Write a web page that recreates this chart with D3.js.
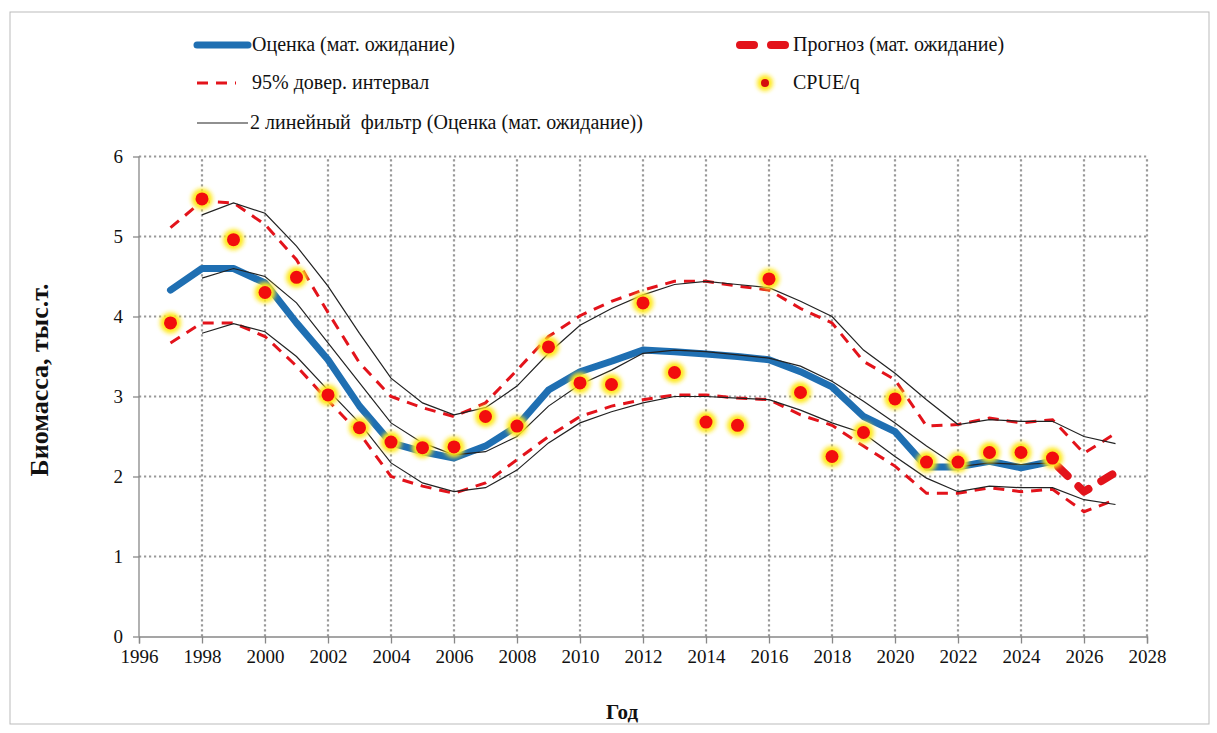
<!DOCTYPE html>
<html><head><meta charset="utf-8">
<script src="https://cdn.jsdelivr.net/npm/d3@7"></script>
<style>
html,body{margin:0;padding:0;background:#fff;}
svg text{font-family:"Liberation Serif","Times New Roman",serif;fill:#111;white-space:pre;}
</style></head>
<body>
<svg id="chart" width="1217" height="733"></svg>
<script>
// ---- data ----
const yearsAll = [1997,1998,1999,2000,2001,2002,2003,2004,2005,2006,2007,2008,2009,2010,2011,2012,2013,2014,2015,2016,2017,2018,2019,2020,2021,2022,2023,2024,2025,2026,2027];
const yearsEst = [1997,1998,1999,2000,2001,2002,2003,2004,2005,2006,2007,2008,2009,2010,2011,2012,2013,2014,2015,2016,2017,2018,2019,2020,2021,2022,2023,2024,2025];
const estimate = [4.33,4.60,4.60,4.42,3.92,3.46,2.88,2.42,2.31,2.23,2.38,2.63,3.08,3.31,3.44,3.58,3.56,3.53,3.50,3.46,3.31,3.12,2.75,2.56,2.12,2.12,2.19,2.11,2.19];
const yearsForecast = [2025,2026,2027];
const forecast = [2.19,1.81,2.05];
const ciUpper = [5.11,5.44,5.42,5.15,4.71,4.05,3.42,3.00,2.86,2.75,2.92,3.33,3.75,4.01,4.19,4.33,4.44,4.44,4.38,4.33,4.10,3.92,3.44,3.21,2.63,2.65,2.73,2.67,2.71,2.29,2.54];
const ciLower = [3.67,3.92,3.92,3.75,3.38,2.95,2.54,2.00,1.88,1.79,1.92,2.21,2.50,2.75,2.88,2.96,3.02,3.02,2.98,2.96,2.77,2.64,2.38,2.13,1.79,1.79,1.86,1.81,1.84,1.56,1.71];
const yearsFilter = [1998,1999,2000,2001,2002,2003,2004,2005,2006,2007,2008,2009,2010,2011,2012,2013,2014,2015,2016,2017,2018,2019,2020,2021,2022,2023,2024,2025,2026,2027];
const filterUpper = [5.27,5.42,5.29,4.88,4.38,3.79,3.23,2.92,2.77,2.86,3.13,3.54,3.89,4.10,4.27,4.40,4.44,4.40,4.36,4.19,4.00,3.58,3.29,2.96,2.65,2.71,2.69,2.69,2.50,2.41];
const yearsFilterMid = [1998,1999,2000,2001,2002,2003,2004,2005,2006,2007,2008,2009,2010,2011,2012,2013,2014,2015,2016,2017,2018,2019,2020,2021,2022,2023,2024,2025];
const filterMid = [4.48,4.60,4.50,4.17,3.67,3.17,2.67,2.42,2.27,2.31,2.50,2.88,3.15,3.33,3.54,3.58,3.56,3.52,3.48,3.38,3.19,2.94,2.67,2.38,2.12,2.17,2.15,2.17];
const filterLower = [3.79,3.91,3.81,3.50,3.08,2.67,2.17,1.92,1.81,1.86,2.08,2.42,2.67,2.81,2.92,3.00,3.00,2.98,2.96,2.83,2.67,2.54,2.25,1.98,1.81,1.88,1.86,1.86,1.71,1.65];
const cpue = [3.92,5.47,4.96,4.30,4.49,3.02,2.61,2.43,2.36,2.37,2.75,2.63,3.62,3.17,3.15,4.17,3.30,2.68,2.64,4.47,3.05,2.25,2.55,2.97,2.18,2.18,2.30,2.30,2.23];
const xTicks = [1996,1998,2000,2002,2004,2006,2008,2010,2012,2014,2016,2018,2020,2022,2024,2026,2028];
const yTicks = [0,1,2,3,4,5,6];
const legendLabels = ["Оценка (мат. ожидание)","95% довер. интервал","2 линейный  фильтр (Оценка (мат. ожидание))","Прогноз (мат. ожидание)","CPUE/q"];

// ---- drawing ----
const svg = d3.select("#chart");
const BLUE = "#1f6fb2", RED = "#e3131b";
const x = d3.scaleLinear().domain([1996,2028]).range([139,1147]);
const y = d3.scaleLinear().domain([0,6]).range([636.5,156.5]);

svg.append("rect").attr("x",10).attr("y",12).attr("width",1199).attr("height",712)
  .attr("fill","none").attr("stroke","#bbb").attr("stroke-width",1);

const defs = svg.append("defs");
const f = defs.append("filter").attr("id","glow").attr("x","-100%").attr("y","-100%").attr("width","300%").attr("height","300%");
f.append("feGaussianBlur").attr("stdDeviation",2.2);

// grid
const grid = svg.append("g").attr("stroke","#999").attr("stroke-width",2.2).attr("stroke-dasharray","2.2,2.8");
grid.selectAll(".gy").data(yTicks.filter(d=>d>0)).join("line")
  .attr("x1",x(1996)).attr("x2",x(2028)).attr("y1",d=>y(d)).attr("y2",d=>y(d));
grid.selectAll(".gx").data(xTicks.filter(d=>d>1996)).join("line")
  .attr("x1",d=>x(d)).attr("x2",d=>x(d)).attr("y1",y(0)).attr("y2",y(6));

// axes
const xAxis = d3.axisBottom(x).tickValues(xTicks).tickFormat(d3.format("d")).tickSize(7).tickPadding(6);
const gx = svg.append("g").attr("transform",`translate(0,${y(0)})`).call(xAxis);
const yAxis = d3.axisLeft(y).tickValues(yTicks).tickFormat(d3.format("d")).tickSize(6).tickPadding(10);
const gy = svg.append("g").attr("transform",`translate(${x(1996)},0)`).call(yAxis);
[gx,gy].forEach(g=>{
  g.attr("font-family",null).attr("font-size",null);
  g.select(".domain").attr("stroke","#888").attr("stroke-width",1.3);
  g.selectAll(".tick line").attr("stroke","#888").attr("stroke-width",1.3);
  g.selectAll(".tick text").style("font-size","19px").attr("fill","#111");
});
gy.select(".domain").attr("d",`M0,${y(0)}V${y(6)}`);

const line = d3.line().x(d=>x(d[0])).y(d=>y(d[1]));
const zip = (a,b)=>a.map((v,i)=>[v,b[i]]);

// estimate
svg.append("path").attr("d",line(zip(yearsEst,estimate))).attr("fill","none")
  .attr("stroke",BLUE).attr("stroke-width",7).attr("stroke-linejoin","round").attr("stroke-linecap","round");
// CI
[ciUpper,ciLower].forEach(s=>{
  svg.append("path").attr("d",line(zip(yearsAll,s))).attr("fill","none")
    .attr("stroke",RED).attr("stroke-width",3).attr("stroke-dasharray","11,8");
});
// filters
[[yearsFilter,filterUpper],[yearsFilterMid,filterMid],[yearsFilter,filterLower]].forEach(([yy,s])=>{
  svg.append("path").attr("d",line(zip(yy,s))).attr("fill","none")
    .attr("stroke","#222").attr("stroke-width",1.2);
});
// forecast
svg.append("path").attr("d",line(zip(yearsForecast,forecast))).attr("fill","none")
  .attr("stroke",RED).attr("stroke-width",8).attr("stroke-linecap","round").attr("stroke-linejoin","round")
  .attr("stroke-dasharray","13,15").attr("stroke-dashoffset",-8);
// cpue dots
const dots = svg.append("g");
const cp = zip(yearsEst,cpue);
dots.selectAll(".h").data(cp).join("circle").attr("cx",d=>x(d[0])).attr("cy",d=>y(d[1]))
  .attr("r",10.5).attr("fill","#ffe81a").attr("filter","url(#glow)");
dots.selectAll(".c").data(cp).join("circle").attr("cx",d=>x(d[0])).attr("cy",d=>y(d[1]))
  .attr("r",6.5).attr("fill","#f20d0d");

// legend
const lg = svg.append("g").style("font-size","20px");
lg.append("line").attr("x1",197).attr("x2",248).attr("y1",45).attr("y2",45).attr("stroke",BLUE).attr("stroke-width",7).attr("stroke-linecap","round");
lg.append("text").attr("x",252).attr("y",51).text(legendLabels[0]);
lg.append("line").attr("x1",197).attr("x2",236).attr("y1",83).attr("y2",83).attr("stroke",RED).attr("stroke-width",3).attr("stroke-dasharray","11,8");
lg.append("text").attr("x",252).attr("y",89).text(legendLabels[1]);
lg.append("line").attr("x1",197).attr("x2",248).attr("y1",123).attr("y2",123).attr("stroke","#222").attr("stroke-width",1.2);
lg.append("text").attr("x",250).attr("y",129).text(legendLabels[2]);
lg.append("line").attr("x1",740).attr("x2",789).attr("y1",45).attr("y2",45).attr("stroke",RED).attr("stroke-width",8).attr("stroke-linecap","round").attr("stroke-dasharray","14,17");
lg.append("text").attr("x",793).attr("y",51).text(legendLabels[3]);
lg.append("circle").attr("cx",765).attr("cy",83).attr("r",8).attr("fill","#ffe81a").attr("filter","url(#glow)");
lg.append("circle").attr("cx",765).attr("cy",83).attr("r",4).attr("fill","#d40d0d");
lg.append("text").attr("x",793).attr("y",89).text(legendLabels[4]);

// axis titles
svg.append("text").attr("transform","translate(48,380) rotate(-90)").attr("text-anchor","middle")
  .style("font-size","26px").style("font-weight","bold").text("Биомасса, тыс.т.");
svg.append("text").attr("x",622).attr("y",719).attr("text-anchor","middle")
  .style("font-size","21px").style("font-weight","bold").text("Год");
</script>
</body></html>
